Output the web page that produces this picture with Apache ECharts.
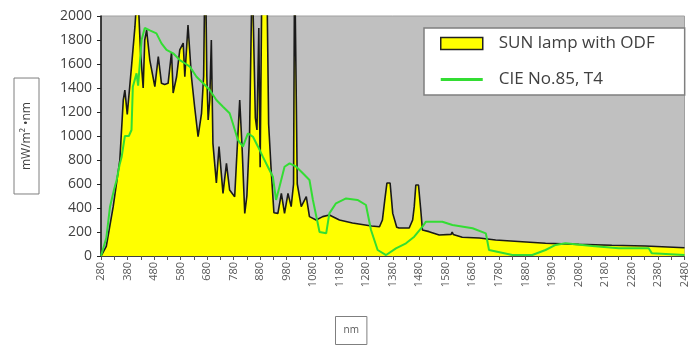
<!DOCTYPE html>
<html>
<head>
<meta charset="utf-8">
<script src="https://cdn.jsdelivr.net/npm/echarts@6/dist/echarts.min.js"></script>
<style>
  html, body { margin: 0; padding: 0; background: #fff; }
  #chart { width: 690px; height: 351px; }
</style>
</head>
<body>
<div id="chart"></div>
<script>
// SUN lamp with ODF (black outline, yellow fill)
const sunNm = [280, 300, 326, 351, 364, 370, 379, 395, 408, 412, 422, 429, 439, 445, 452, 464, 483, 496, 508, 520,
  533, 546, 552, 565, 577, 590, 596, 608, 621, 633, 646, 659, 667, 673, 679, 684, 690, 696, 702, 715,
  725, 740, 753, 765, 784, 803, 812, 822, 830, 840, 846, 850, 857, 862, 868, 875, 880, 887, 905, 912,
  922, 932, 947, 960, 972, 985, 997, 1006, 1010, 1016, 1020, 1035, 1054, 1066, 1091, 1116, 1141, 1179, 1228, 1300,
  1330, 1341, 1350, 1358, 1370, 1380, 1395, 1404, 1442, 1455, 1461, 1467, 1477, 1485, 1492, 1517, 1555, 1600, 1604, 1608,
  1642, 1706, 1768, 1868, 1956, 2082, 2206, 2332, 2480]
const sunValue = [0, 80, 411, 800, 1300, 1383, 1180, 1578, 1911, 2050, 2050, 1700, 1400, 1800, 1883, 1633, 1411, 1661, 1439, 1430,
  1439, 1700, 1358, 1494, 1717, 1775, 1494, 1925, 1494, 1244, 994, 1189, 1500, 2600, 1500, 1133, 1300, 1800, 939, 608,
  911, 522, 772, 550, 494, 1300, 900, 355, 500, 1000, 1000, 2400, 2400, 1150, 1050, 1900, 740, 2400, 2400, 1100,
  700, 360, 355, 522, 355, 522, 411, 600, 2500, 2500, 600, 411, 494, 328, 300, 328, 342, 300, 275, 250,
  244, 300, 467, 608, 608, 355, 240, 233, 233, 300, 411, 592, 592, 400, 217, 203, 175, 180, 200, 180,
  156, 150, 133, 119, 106, 97, 89, 83, 69]

// CIE No.85, T4 reference spectrum (green)
const cieNm = [280, 300, 314, 330, 339, 350, 358, 370, 385, 395, 400, 414, 420, 433, 445, 464, 489, 508, 527, 552,
  577, 596, 615, 640, 665, 690, 715, 740, 765, 777, 796, 815, 834, 853, 872, 890, 909, 928, 940, 953,
  972, 991, 1016, 1041, 1066, 1079, 1104, 1129, 1141, 1166, 1204, 1247, 1279, 1298, 1323, 1355, 1392, 1430, 1461, 1492,
  1505, 1567, 1605, 1681, 1731, 1743, 1831, 1906, 1956, 1994, 2031, 2132, 2232, 2345, 2357, 2480]
const cieValue = [0, 150, 411, 560, 633, 760, 828, 1000, 1000, 1050, 1411, 1522, 1420, 1800, 1900, 1880, 1855, 1772, 1717, 1689,
  1633, 1606, 1578, 1494, 1439, 1383, 1300, 1244, 1189, 1106, 967, 911, 1022, 994, 911, 828, 744, 661, 467, 578,
  744, 772, 744, 689, 633, 467, 200, 189, 355, 439, 480, 467, 425, 217, 50, 8, 64, 106, 161, 244,
  286, 286, 258, 231, 189, 50, 8, 8, 50, 92, 106, 83, 64, 64, 22, 8]

// axis ticks and labels
const xLabelValues = []
for (let v = 280; v <= 2480; v += 100) xLabelValues.push(v)
const xTickValues = []
for (let v = 280; v <= 2480; v += 50) xTickValues.push(v)

const FONT = 'Open Sans'

const chart = echarts.init(document.getElementById('chart'))

const option = {
  animation: false,
  textStyle: { fontFamily: FONT },
  grid: {
    left: 101,
    right: 3,
    top: 16,
    bottom: 95,
    show: true,
    backgroundColor: '#c0c0c0',
    borderColor: '#a0a0a0',
    borderWidth: 1
  },
  legend: {
    orient: 'vertical',
    left: 424,
    top: 28,
    padding: [7, 30, 7, 16],
    itemWidth: 42,
    itemHeight: 12,
    itemGap: 19,
    backgroundColor: '#fff',
    borderColor: '#7f7f7f',
    borderWidth: 1.5,
    textStyle: { fontSize: 17, color: '#404040', fontFamily: FONT, padding: [0, 0, 0, 11] },
    data: [
      { name: 'SUN lamp with ODF', icon: 'rect', itemStyle: { color: '#ffff00', borderColor: '#222', borderWidth: 1.5 } },
      { name: 'CIE No.85, T4', icon: 'path://M0,0 H42 V3 H0 Z', itemStyle: { color: '#33dd33' } }
    ]
  },
  xAxis: {
    type: 'value',
    min: 280,
    max: 2480,
    splitLine: { show: false },
    axisLine: { lineStyle: { color: '#404040', width: 1 } },
    axisTick: { length: 4, lineStyle: { color: '#555' }, customValues: xTickValues },
    axisLabel: {
      rotate: 90,
      fontSize: 11,
      color: '#595959',
      margin: 6,
      customValues: xLabelValues,
      formatter: v => String(v)
    }
  },
  yAxis: {
    type: 'value',
    min: 0,
    max: 2000,
    interval: 200,
    name: 'mW/m² •nm',
    nameLocation: 'middle',
    nameGap: 62,
    nameTextStyle: {
      fontSize: 12,
      color: '#404040',
      borderColor: '#7f7f7f',
      borderWidth: 1,
      padding: [7, 24, 6, 24]
    },
    splitLine: { show: false },
    axisLine: { show: true, lineStyle: { color: '#111', width: 1.5 } },
    axisTick: { show: true, length: 4, lineStyle: { color: '#222' } },
    axisLabel: { fontSize: 14, color: '#404040', margin: 9, formatter: v => String(v) }
  },
  graphic: [{
    type: 'text',
    left: 335,
    top: 316,
    style: {
      text: 'nm',
      fontSize: 10,
      fontFamily: FONT,
      fill: '#595959',
      borderColor: '#7f7f7f',
      borderWidth: 1,
      padding: [9, 8, 9, 8]
    }
  }],
  series: [
    {
      name: 'SUN lamp with ODF',
      type: 'line',
      symbol: 'none',
      data: sunNm.map((nm, i) => [nm, sunValue[i]]),
      lineStyle: { color: '#1a1a1a', width: 1.6 },
      itemStyle: { color: '#ffff00' },
      areaStyle: { color: '#ffff00', opacity: 1 }
    },
    {
      name: 'CIE No.85, T4',
      type: 'line',
      symbol: 'none',
      data: cieNm.map((nm, i) => [nm, cieValue[i]]),
      lineStyle: { color: '#33dd33', width: 2 },
      itemStyle: { color: '#33dd33' }
    }
  ]
}

chart.setOption(option)
window.addEventListener('resize', () => chart.resize())
</script>
</body>
</html>
